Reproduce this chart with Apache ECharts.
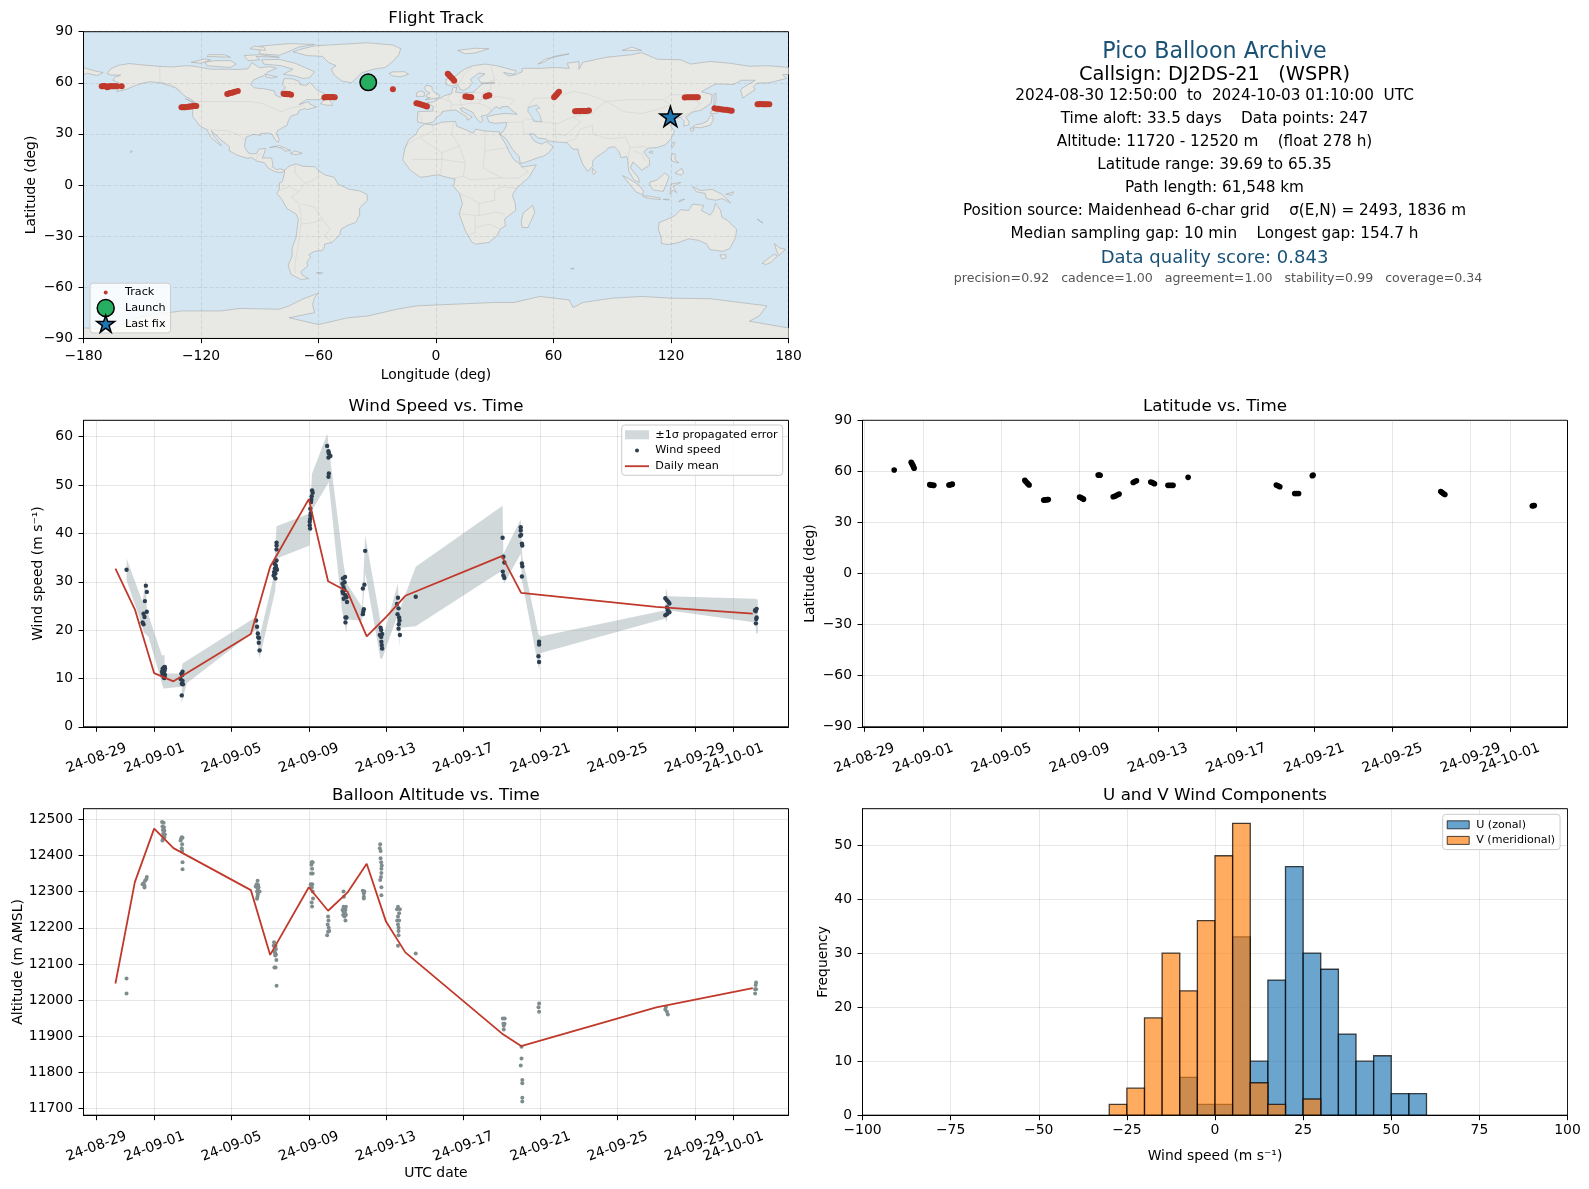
<!DOCTYPE html>
<html><head><meta charset="utf-8">
<style>html,body{margin:0;padding:0;background:#fff}#c{width:1589px;height:1189px}</style>
<script src="https://cdn.jsdelivr.net/npm/echarts@6/dist/echarts.min.js"></script>
</head><body><div id="c"></div>
<script>
// ---------- tick labels ----------
const dateTickDays = [0,3,7,11,15,19,23,27,31,33];
const dateTickLabels = ['24-08-29','24-09-01','24-09-05','24-09-09','24-09-13','24-09-17','24-09-21','24-09-25','24-09-29','24-10-01'];
const lonTicks = [-180,-120,-60,0,60,120,180];
const latTicks = [-90,-60,-30,0,30,60,90];
const windTicks = [0,10,20,30,40,50,60];
const altTicks = [11700,11800,11900,12000,12100,12200,12300,12400,12500];
const histXTicks = [-100,-75,-50,-25,0,25,50,75,100];
const histYTicks = [0,10,20,30,40,50];

// ---------- track (lon, lat) ----------
const launchPoint = [-34.6, 60.3];
const lastFixPoint = [119.7, 40.2];
const trackPoints = [
 [-170.7,58],[-170,58],[-169.4,58.1],[-168.8,58],[-168.2,57.7],[-167.8,57.4],[-167.2,57.8],[-166.6,58],[-166,58],[-165.2,58],[-164.4,58],[-163.6,58],[-162.8,58],[-160.5,58],
 [-130,45.6],[-129.3,45.6],[-128.6,45.7],[-127.9,45.7],[-127.2,45.8],[-126.5,45.9],[-125.8,46],[-125.1,46.1],[-124.4,46.2],[-123.7,46.3],[-123,46.4],[-122.4,46.4],
 [-106.6,53.4],[-105.8,53.7],[-105,54],[-104.2,54.2],[-103.4,54.4],[-102.6,54.7],[-101.2,55.2],
 [-77.8,53.6],[-77.2,53.4],[-76.6,53.5],[-76,53.2],[-75.4,53.4],[-74.8,53.2],[-74,53],
 [-57,51.4],[-56.2,51.6],[-55.4,51.5],[-54.6,51.6],[-53.8,51.5],[-53,51.6],[-52.4,51.5],[-51.7,51.5],
 [-22,56.2],
 [-10,48],[-9.2,47.8],[-8.4,47.6],[-7.6,47.3],[-6.8,47],[-6,46.6],[-5.2,46.3],[-4.6,46],
 [6,65.3],[6.6,64.6],[7.2,63.8],[7.9,63],[8.6,62.2],[9.3,61.2],
 [15,51.9],[15.8,51.9],[16.6,51.7],[17.4,51.6],[18,51.5],
 [25.4,52],[26,52.3],[26.6,52.5],[27.2,52.7],
 [60.3,51.5],[60.9,52.2],[61.5,53],[62.1,53.9],[62.8,54.7],
 [71,43.3],[71.8,43.3],[72.6,43.4],[73.4,43.3],[74.2,43.4],[75,43.4],[75.8,43.5],[76.6,43.5],[77.4,43.6],[78.1,43.7],
 [127,51.4],[128,51.5],[129,51.5],[130,51.5],[131,51.5],[132,51.5],[133,51.5],[133.7,51.5],
 [142.2,45],[143.2,44.8],[144.2,44.7],[145.2,44.5],[146.2,44.3],[147.2,44.2],[148.2,44.1],[149.2,43.9],[150.2,43.7],[151,43.6],
 [164.2,47.4],[165,47.4],[165.8,47.5],[166.6,47.4],[167.4,47.4],[168.2,47.4],[169,47.4],[170.2,47.4]
];

// ---------- latitude vs time (day since 08-29, deg) ----------
const latSeries = [
 [1.52,60.8],[2.39,65.3],[2.42,64.8],[2.45,64],[2.48,63.4],[2.51,62.6],[2.54,61.8],
 [3.34,52.2],[3.4,52],[3.46,51.9],[3.51,51.8],[3.55,51.8],[4.32,52],[4.38,52.1],[4.44,52.3],[4.49,52.5],
 [8.2,54.7],[8.26,53.9],[8.32,53.2],[8.37,52.6],[8.42,52],[9.17,43.1],[9.22,43.2],[9.28,43.3],[9.34,43.4],[9.4,43.5],
 [11,44.9],[11.06,44.6],[11.13,44.2],[11.2,43.7],[11.95,57.9],[12,57.8],[12.05,57.7],
 [12.72,45.1],[12.8,45.4],[12.88,45.8],[12.95,46.3],[13.02,46.7],[13.74,53.5],[13.82,54],[13.91,54.5],
 [14.64,53.7],[14.72,53.4],[14.78,53],[14.83,52.7],[15.52,51.8],[15.6,51.8],[15.7,51.8],[15.78,51.8],[16.55,56.5],
 [21.06,52],[21.15,51.5],[21.24,51],[22,47],[22.1,47],[22.2,47],[22.9,57.4],[22.94,57.8],
 [29.47,48.2],[29.54,47.6],[29.6,47],[29.68,46.4],[34.15,39.7],[34.2,39.9],[34.25,40]
];

// ---------- wind speed vs time (day, m/s) ----------
const windSeries = [
 [1.56,32.5],
 [2.56,29.2],[2.61,27.9],[2.51,26],[2.61,23.8],[2.44,23.4],[2.49,22.7],[2.39,21.6],[2.44,21.2],
 [3.4,11.4],[3.43,12],[3.45,10.6],[3.47,11.8],[3.48,10.4],[3.5,12.3],[3.5,11],[3.52,10.2],[3.53,11.6],[3.54,12.4],[3.55,10.7],[3.55,12.1],[3.42,10.9],[3.46,11.2],[3.51,10.1],
 [4.36,9.9],[4.4,11],[4.44,10.7],[4.46,11.4],[4.42,8.9],[4.46,9.5],[4.48,8.8],[4.42,6.5],
 [8.27,22],[8.32,20.7],[8.36,19.3],[8.38,18.5],[8.42,18.4],[8.41,17.4],[8.45,15.8],
 [9.33,38.1],[9.33,37.5],[9.33,36.7],[9.33,34.4],[9.29,33.4],[9.24,32.7],[9.35,32.5],[9.2,32],[9.27,31.7],[9.18,31.3],[9.27,30.7],[9.3,33],[9.22,33.8],
 [11.17,48.9],[11.2,48.4],[11.15,47.7],[11.13,47],[11.08,45.1],[11.09,43.7],[11.07,43],[11.05,42.4],[11.05,41.7],[11.07,41],[11.12,46.5],[11.1,44.2],
 [11.95,58.1],[12.02,57],[12.04,56.6],[12.12,56],[12.02,55.7],[12.04,52.4],[12.02,51.7],
 [12.77,30.7],[12.88,31],[12.75,29.6],[12.85,29.9],[12.8,28.9],[12.75,28],[12.85,28.3],[12.78,27.6],[12.9,27.2],[12.81,26.5],[12.95,26.8],[12.98,25.8],[12.95,22.6],[12.9,22.6],[12.9,21.6],
 [13.8,28.6],[13.88,29.4],[13.92,36.4],[13.85,24.3],[13.82,23.8],[13.8,23.3],
 [14.72,20.5],[14.75,20],[14.68,19],[14.8,19.2],[14.75,18.6],[14.76,17.6],[14.78,16.9],[14.8,16.2],[14.72,18.9],
 [15.62,26.7],[15.57,25.4],[15.65,24.5],[15.6,23.3],[15.68,22.6],[15.7,22],[15.66,21.2],[15.65,20.3],[15.72,19],
 [16.54,26.9],
 [21.04,39.1],[21.08,35.2],[21.13,34],[21.05,32.1],[21.08,31.3],[21.13,30.8],
 [21.98,41.3],[21.98,40.6],[22,39.7],[21.95,39.5],[22.04,37.9],[22.06,37.5],[22.04,33.8],[22.06,33.2],[22.04,31.1],
 [22.93,17.6],[22.93,17],[22.9,14.6],[22.93,13.4],
 [29.47,26.6],[29.55,26.2],[29.62,25.9],[29.68,25.5],[29.55,24.7],[29.6,24.1],[29.68,23.7],[29.55,23.3],[29.47,23.1],
 [34.12,24.1],[34.2,24.4],[34.15,23.9],[34.2,22.6],[34.18,22.3],[34.16,21.4]
];
const windMeanDays = [0.985,1.99,2.99,3.99,8.0,9.0,11.0,12.0,13.0,14.0,15.0,16.0,21.0,22.0,29.0,34.0];
const windMeanValues = [32.7,24.3,11.1,9.4,19.2,33.1,47.1,30.1,28,18.7,22.7,27.1,35.3,27.7,24.8,23.4];
const windBandUpper = [
 [1.56,34.8],[2.39,25.8],[2.56,30.8],[2.61,24.1],[3.39,14.8],[3.53,14.8],[3.53,11],[4.37,11],[4.46,13.1],[8.26,22.7],[8.45,18.6],[9.18,31],[9.33,41.5],[11.05,44.1],[11.17,52.4],[11.96,60.6],[12.12,55.1],[12.81,33.4],[12.98,29.6],[13.76,24.8],[13.92,39.6],[14.66,23.1],[14.8,17.9],[15.61,29.6],[15.7,24.1],[16.54,33.1],[21.04,45.7],[21.08,35.8],[21.98,42.9],[22.06,35.1],[22.89,19.3],[22.98,18.7],[29.47,24.1],[29.5,28.8],[29.59,27],[34.14,26.5],[34.26,26.3]
];
const windBandLower = [
 [1.56,30.3],[2.39,20.7],[2.44,19.6],[2.7,18.6],[3.47,7.9],[4.43,8.3],[4.41,4.8],[4.68,9],[8.26,20],[8.45,14.1],[9.27,28.3],[9.33,34.8],[11.05,37.5],[11.08,40.3],[11.17,44.8],[12.03,50.6],[12.72,24.1],[12.95,19.3],[12.98,22.2],[13.76,22],[13.93,31.7],[14.71,14.1],[14.8,14.1],[15.57,22.7],[15.7,16.4],[15.7,20.5],[16.54,20.8],[21.04,32.4],[21.11,29.6],[21.98,35.8],[22.04,30.3],[22.93,11.7],[22.98,15.2],[29.47,22.4],[29.55,21.6],[29.59,24.1],[34.14,21.6],[34.18,19.3],[34.26,19.3]
];

// ---------- altitude vs time (day, m) ----------
const altSeries = [
 [1.56,12060],[1.56,12018],
 [2.61,12340],[2.58,12334],[2.52,12330],[2.44,12323],[2.39,12320],[2.49,12316],[2.49,12311],
 [3.4,12492],[3.48,12490],[3.42,12480],[3.5,12478],[3.44,12470],[3.52,12468],[3.46,12460],[3.55,12458],[3.48,12452],[3.52,12450],[3.45,12445],[3.42,12441],
 [4.42,12450],[4.46,12449],[4.38,12445],[4.36,12441],[4.44,12431],[4.42,12420],[4.44,12412],[4.46,12381],[4.46,12362],
 [8.35,12330],[8.3,12320],[8.38,12318],[8.25,12314],[8.4,12311],[8.35,12309],[8.32,12300],[8.4,12300],[8.45,12300],[8.36,12292],[8.34,12286],[8.32,12280],
 [9.2,12160],[9.28,12150],[9.18,12150],[9.3,12141],[9.22,12134],[9.26,12130],[9.3,12126],[9.26,12123],[9.32,12111],[9.22,12090],[9.28,12090],[9.33,12040],
 [11.15,12381],[11.2,12381],[11.14,12374],[11.17,12363],[11.12,12350],[11.2,12350],[11.1,12320],[11.18,12320],[11.12,12316],[11.16,12311],[11.2,12300],[11.22,12281],[11.15,12270],[11.17,12259],
 [12,12231],[12.02,12220],[11.98,12209],[12.03,12200],[12.06,12191],[12.0,12189],[11.95,12179],
 [12.8,12300],[12.82,12286],[12.8,12258],[12.92,12258],[12.85,12254],[12.75,12249],[12.9,12249],[12.8,12244],[12.88,12240],[12.78,12235],[12.92,12235],[12.85,12231],[12.9,12220],
 [13.8,12302],[13.88,12300],[13.85,12295],[13.85,12286],[13.85,12281],
 [14.7,12431],[14.68,12420],[14.72,12412],[14.72,12392],[14.75,12381],[14.78,12372],[14.76,12363],[14.76,12351],[14.74,12340],[14.7,12332],[14.76,12312],[14.76,12290],
 [15.62,12258],[15.57,12251],[15.72,12251],[15.68,12240],[15.62,12231],[15.58,12220],[15.68,12220],[15.62,12209],[15.65,12200],[15.65,12191],[15.65,12179],[15.62,12150],
 [16.54,12129],
 [21.05,11949],[21.15,11949],[21.08,11935],[21.14,11935],[21.1,11929],[21.1,11919],
 [22.02,11871],[22.02,11839],[21.98,11819],[22.06,11779],[22.06,11770],[22.06,11730],[22.06,11720],
 [22.93,11991],[22.9,11980],[22.93,11968],
 [29.5,11981],[29.47,11974],[29.55,11968],[29.6,11960],
 [34.17,12049],[34.15,12042],[34.12,12030],[34.17,12030],[34.12,12018]
];
const altMeanDays = [0.985,1.99,2.99,3.99,8.0,9.0,11.0,12.0,13.0,14.0,15.0,16.0,21.0,22.0,29.0,34.0];
const altMeanValues = [12046,12326,12474,12420,12304,12125,12312,12247,12297,12377,12217,12132,11908,11873,11980,12033];

// ---------- histogram (bins of 5 m/s) ----------
const uBinStarts = [-10,-5,0,5,10,15,20,25,30,35,40,45,50,55];
const uCounts = [7,2,2,33,10,25,46,30,27,15,10,11,4,4];
const vBinStarts = [-30,-25,-20,-15,-10,-5,0,5,10,15,25];
const vCounts = [2,5,18,30,23,36,48,54,6,2,3];
const histBinWidth = 5;

// ---------- coastlines (lon, lat) ----------
const landPolygons = [
 // North America
 [[-168,65.5],[-166,68.3],[-162,70.3],[-156.5,71.3],[-150,70.5],[-141,69.6],[-135,69.3],[-128,70],[-124,69.8],[-115,68],[-108,68],[-102,67.8],[-96,68.2],[-94,71.8],[-90,68.8],[-85,69.5],[-81.5,68.5],[-86,66.3],[-88,64.2],[-93,61.8],[-94.8,59],[-92.5,57],[-88,56.5],[-82.5,55.2],[-82,52.8],[-79.5,51.3],[-78.8,52.5],[-79.5,54.8],[-76.8,57],[-78.5,59],[-77.5,62.5],[-73.5,62.3],[-70,61],[-69.5,58.8],[-66,58.5],[-64.5,60.3],[-61,56],[-57.5,54],[-55.8,52],[-60,50],[-66,50.2],[-70,47.2],[-65,49],[-64.5,47.5],[-61,45.8],[-66,44.2],[-67,45],[-70,43.7],[-70.5,41.7],[-74,40.5],[-75.5,37.5],[-76,35],[-78,33.9],[-81,31.8],[-81.4,30],[-80,26.8],[-80.5,25.2],[-81.8,26],[-82.8,28],[-84,30],[-86,30.4],[-89.5,30.2],[-89.5,29.2],[-93.5,29.7],[-97,28],[-97.5,25],[-97.8,22.4],[-96,19],[-94.3,18.2],[-91.5,18.5],[-90.5,21],[-87,21.5],[-87.8,18.2],[-88.8,15.9],[-84,15.8],[-83.3,12.5],[-83.7,10.8],[-81.5,9],[-79.5,9.5],[-77.4,8.6],[-78.2,7.5],[-80.2,7.3],[-83,8.2],[-85.7,10],[-87.6,13],[-91.5,14],[-94,16],[-96.5,15.7],[-101.5,17.5],[-105.5,20],[-105.5,22.5],[-109.3,26],[-112.5,29.5],[-114.7,31.7],[-113,28],[-110,24],[-109.6,23],[-112,25],[-115,28],[-117,32.5],[-120.5,34.5],[-122.5,37.5],[-124.3,40.3],[-124.2,43],[-124,46.5],[-124.7,48.4],[-122.5,48],[-125,50.2],[-128,52],[-130.5,54.5],[-133,57],[-136,58.3],[-140,59.8],[-146,60.7],[-149,60],[-152,59],[-154,58.2],[-158,56.2],[-163,54.8],[-160,58.7],[-162,60],[-165,61.5],[-164,63.2],[-161,64.5],[-166,64.5]],
 // Greenland and Arctic islands
 [[-73,78.2],[-68,80],[-62,81.7],[-50,82.5],[-35,83.5],[-22,82.2],[-18,80],[-19,76.5],[-22,72.5],[-26,69],[-32,68],[-38,65.8],[-43,60],[-48,61],[-52,64.5],[-53.5,68],[-51,70],[-55,72],[-58,75.5],[-66,76]],
 [[-80,73.7],[-72,71.5],[-67,69],[-62,66.5],[-64.5,63],[-68,62.5],[-72,64],[-78,65],[-73,68],[-79,70],[-88,71],[-89,73.5]],
 [[-117,70],[-105,69],[-102,71],[-105,73],[-113,73],[-118,72]],
 [[-90,77],[-80,76.2],[-76,78],[-70,81],[-62,82.5],[-75,83],[-90,81.5]],
 [[-125,72],[-118,74],[-115,73.5],[-120,71.5]],
 [[-117,75.5],[-105,75],[-108,76.5],[-116,76.5]],
 [[-95,80],[-87,79],[-88,81],[-93,81.5]],
 [[-96,73],[-90,73.5],[-92,75.5],[-80,75],[-90,76.5],[-98,76]],
 [[-87,65],[-81,63.5],[-84,62.8],[-87,63.5]],
 [[-59,47.7],[-56,51.5],[-53,48],[-53,46.7],[-56,46.9]],
 [[-128,50.7],[-123.5,48.4],[-125,48.8]],
 [[-85,22],[-80,23.1],[-74.2,20.2],[-77.5,19.9],[-78.5,21.5],[-82,22.5]],
 [[-74.4,18.5],[-72,20],[-68.4,18.6],[-71.5,17.7]],
 [[-156,19],[-155,19.6],[-155.8,20.3]],
 [[-24,65.5],[-22,66.4],[-16,66.5],[-14,65],[-18,63.5],[-22,64]],
 [[11,79],[20,80.3],[27,80],[20,77.5],[15,77]],
 [[52,71],[56,74],[68,77],[60,75.5],[55,72]],
 [[95,79],[105,79],[100,81]],
 // British Isles
 [[-5.5,50],[1.5,51.2],[1.7,52.8],[-1,54.5],[-2,56],[-2,57.7],[-5,58.6],[-6,57],[-4.8,55],[-3,54],[-4.8,52.8],[-5,51.7],[-3,51.3]],
 [[-10,52],[-6,52.1],[-6,54.5],[-8,55.2],[-10,54]],
 // Eurasia
 [[-9.5,37],[-9.3,43],[-1.8,43.4],[-1.2,46],[-4.7,48.3],[-1.5,48.7],[2,51],[4.5,52.5],[8,53.7],[8.5,57],[10.7,57.5],[10,54.5],[14,54],[19,54.4],[21,56.5],[23.5,59.3],[30,60],[23,60],[21.5,62.5],[25,65.2],[22,65.7],[17.5,62],[18.7,60],[16.5,57],[14,55.5],[12.5,56],[11,59],[8,58],[5.2,59],[5,62],[10,64],[14.5,68],[19,70],[25,71],[31,70],[41,67],[40,65],[34.5,66],[37,64],[40.5,64.7],[44,66.5],[44,68.5],[54,68.5],[60,69],[68,68.5],[67,71.5],[73,72.5],[73,68],[75,72],[81,73.5],[87,75],[100,76.5],[105,77.7],[113,73.8],[125,73.5],[130,71],[140,72.5],[150,71.5],[160,69.7],[170,70],[180,69],[180,65],[177,64.7],[179,62.5],[170,60],[164,59.8],[162,57.5],[163,56],[159,53],[156.7,51],[155.5,56],[158,58],[163,61.5],[156,61.5],[152,59],[142.5,59.3],[135.5,54.7],[141,53],[140.5,48],[135.5,44],[131,42.7],[127.5,39.8],[129.3,37],[129,35.2],[126.5,34.5],[126.7,37.5],[125,39.7],[121.5,39],[121,40.8],[118,39],[119,37.3],[122.5,37],[119.5,35],[121.8,31.5],[120,27],[117,23.5],[113,22],[108.5,21.6],[106,19.5],[109,15],[109,11.5],[105,8.7],[103,11],[100.5,13.5],[99.3,10],[103.5,4],[103.8,1.5],[101,3],[98.3,8.5],[98,14.5],[97.3,16.7],[94.5,16],[93.5,19.5],[91,22.5],[88,21.8],[86.7,20],[82,16.5],[80,14],[80,11],[77.5,8],[75,12],[73,18],[72.5,21],[70,21],[67,24.8],[61.5,25.2],[57,26],[56.4,27],[52,27.5],[50,30],[48,30],[48.5,28.5],[50,26],[51.5,25],[54,24],[56.3,25.5],[59.8,22.5],[57.7,19],[55,17],[52,16],[45,13],[43,12.7],[42.5,16.5],[39,21],[36.5,26],[35,28],[32.5,30],[34.3,31.3],[35.8,34.5],[36,36.7],[30,36.2],[27,37],[26,40],[29,41],[35,42],[41.5,41.5],[38,44.5],[37,46],[33.5,46],[33,44.7],[30.5,46],[28,43],[26,41],[23,40.5],[24,38],[22.5,36.5],[19.5,41],[19,42.5],[14,45.3],[12.3,45],[13,43.5],[18.5,40],[16,38],[15.7,40],[10,44],[7,43.7],[3.2,43.2],[3,41.8],[0,39.5],[-0.7,37.7],[-2,36.7],[-5.5,36]],
 [[-180,69],[-175,67.2],[-170,66],[-173,64.3],[-178,65.5],[-180,65]],
 // Asia islands
 [[131,34],[135,33.6],[140,35],[141.5,38],[141.3,41],[140,40.5],[138.5,37.5],[136,36],[132.5,35.4]],
 [[140,42],[141.8,45.3],[145.3,43.5],[143,42]],
 [[130,33.5],[131.8,33.2],[131,31.3],[130,32]],
 [[142,46],[143,49],[143,54],[142,53.5],[142,49]],
 [[120.2,23],[121,25.2],[122,24.8],[120.8,22]],
 [[120,16],[120.8,18.5],[122.2,18],[122,15],[124,13],[120.5,14]],
 [[122,7],[125.5,9.7],[126.5,7],[125,5.8]],
 [[108.7,19.2],[110.5,20],[110.5,18.5]],
 [[79.8,8],[80,9.7],[81.8,7.5],[80.5,6]],
 [[95.3,5.5],[98,4],[103.5,0],[106,-3.5],[105.5,-5.8],[102,-4],[98.5,1]],
 [[105.5,-6.5],[108.5,-6.5],[114.5,-7.7],[114.5,-8.6],[108,-7.8]],
 [[109,1.5],[113,3],[116.8,7],[119,5],[117.8,1],[116,-3.8],[111,-3],[109.2,0]],
 [[119.5,-5.5],[120,0.5],[125,1.5],[121,-1],[123,-4.5],[121,-3]],
 [[131,-1],[135,-3.3],[141,-2.6],[146,-5.5],[150.5,-10.5],[146,-8],[143,-9],[138,-8],[137.5,-5],[133,-4]],
 [[148,-5.5],[152,-4],[151,-6]],
 [[116,-8.5],[119,-8.3],[119,-8.9]],
 [[124,-10],[127,-8.4],[124.5,-9]],
 // Oceania
 [[114,-22],[113.5,-26],[115,-31],[115,-34.3],[118,-35],[123.5,-34],[129,-31.6],[134,-32.5],[138,-34.5],[140,-38],[146.5,-39],[150,-37.3],[153,-31],[153.5,-26],[149,-21],[146,-19],[145.3,-15],[142.7,-10.8],[141.7,-15],[140,-17.7],[135.5,-15],[136.7,-12],[131,-11.3],[129,-15],[125,-14.5],[122,-18],[118,-20.2]],
 [[145,-41],[148,-41],[148,-43],[146,-43.5]],
 [[172.8,-34.5],[175.5,-37],[178.5,-37.8],[175,-41.5],[174,-39]],
 [[172.7,-40.7],[174.3,-41.7],[171,-45.5],[168.5,-46.7],[166.5,-46],[171,-42]],
 [[164,-20],[167,-22.3],[166,-21.8]],
 [[68.8,-49],[70.5,-49],[69.5,-49.7]],
 // Africa
 [[-5.8,35.8],[-1,35.2],[3,36.9],[10,37.3],[10.5,34.5],[15,32.5],[19,30.3],[20.2,32.8],[25,31.7],[30,31.3],[32.5,31.2],[32.5,29.8],[34,27],[36,23],[37.3,19.5],[39.5,15.2],[43,12],[44,10.5],[51.2,11.8],[47.5,4.5],[41,-2],[39,-6],[40.5,-11],[40.7,-15],[35,-20],[35.5,-24],[32.8,-26],[31,-30],[27,-33.8],[20,-34.8],[18.3,-33.5],[15,-27],[11.8,-17],[13.5,-11],[12,-5],[9,-0.8],[9.7,3.5],[5.5,4.5],[1,6],[-4.5,5],[-8,4.5],[-13,8.5],[-17,14.7],[-16,21],[-14,26.5],[-10,30],[-9,33]],
 [[49.3,-12],[50.5,-16],[47,-25],[44,-25],[43.5,-21.5],[44.5,-16.5]],
 // South America
 [[-77.3,8.6],[-75,11],[-71.5,12.4],[-68,11],[-62,10.7],[-60,8.5],[-57,6],[-52,4.5],[-50,0.5],[-44.5,-2.5],[-39,-3.5],[-35.2,-5.5],[-35,-9],[-39,-13.5],[-39,-17.5],[-41,-22],[-45,-23.7],[-48.5,-26],[-49,-29],[-53,-33.7],[-57,-34.8],[-57,-36.5],[-58,-38.5],[-62,-39],[-65,-41],[-64,-42.5],[-66,-45.5],[-65.5,-47.5],[-69,-51],[-68.3,-53],[-65,-55],[-69,-55.5],[-74,-52.5],[-75.5,-47],[-73.5,-42],[-73.5,-37],[-71.5,-31],[-70.3,-20],[-71.5,-17],[-76,-14],[-79,-8],[-81.3,-5],[-80,-2.5],[-80,1],[-78.5,2],[-77.5,6]],
 [[-61,-51.5],[-58,-51.5],[-59,-52.3]],
 // Antarctica
 [[-180,-84],[-165,-84.5],[-150,-77],[-130,-74],[-110,-74],[-100,-72.5],[-80,-73],[-75,-71],[-68,-67],[-60,-63.5],[-62,-66],[-63,-70],[-62,-75],[-75,-78],[-60,-82],[-45,-78],[-35,-77],[-20,-73],[-10,-71],[10,-70],[30,-69],[40,-69],[53,-65.5],[68,-67.5],[70,-72],[75,-69],[90,-66.5],[105,-65.5],[120,-66.5],[140,-66.8],[155,-69],[169,-71],[165,-77],[160,-80],[180,-84],[180,-90],[-180,-90]]
];
const waterPolygons = [
 [[47,45.5],[51.5,47],[53,45],[51,44.5],[53,41],[54,37],[50,37.3],[49,40],[47,43]]
];
const borderLines = [
 [[-123,49],[-95,49],[-89,48],[-83,45],[-79,43],[-75,45],[-70,46],[-67.5,47]],
 [[-141,69.6],[-141,60.3],[-135,59],[-130,55]],
 [[-117,32.5],[-106,31.8],[-101,29.5],[-97.5,26]],
 [[-92,14.5],[-91,17.5],[-89,18]],
 [[-72,12],[-72,7],[-67,1],[-70,-4],[-74,-7],[-70,-11],[-69,-17],[-69,-23],[-70,-33],[-72,-46],[-72,-52]],
 [[-60,8.5],[-60,5],[-64,2],[-67,1]],
 [[-80,-3],[-75,-1],[-70,-4]],
 [[-69,-11],[-62,-13],[-58,-20],[-54,-26],[-57,-30],[-53,-33.7]],
 [[-69,-23],[-62,-22],[-58,-20]],
 [[-8,28],[-1,32],[-2,35]],[[-8,28],[-12,26],[-17,21]],[[9,37],[8,30],[12,23],[3,19],[-5,25],[-8,28]],
 [[25,31.7],[25,20],[37,22]],[[25,20],[24,10],[34,4],[42,4],[47,8],[43,11]],[[12,23],[15,13],[14,5],[9,4]],[[3,19],[3,12],[2,6]],[[-12,15],[3,15],[15,13]],
 [[14,5],[18,3],[30,4],[34,4]],[[12,-5],[18,-8],[22,-11],[30,-9],[30,-3],[34,-1],[41,-2]],[[22,-11],[22,-18],[12,-17]],[[20,-18],[20,-28],[17,-29]],[[22,-18],[30,-16],[35,-17]],[[33,-26],[27,-23],[20,-25]],
 [[2,51],[6,49.5],[8,48],[7,44]],[[-1.8,43.4],[3,42.5]],[[-8.5,42],[-7,37]],[[7,53.5],[6,51],[8,48]],[[14,54],[15,51],[12,50],[13,47],[8,47]],[[15,51],[23,50],[24,54],[19,54.4]],[[13,47],[17,48],[22,48],[23,50]],[[22,48],[28,45],[28,43]],[[24,54],[28,56],[28,60]],[[23,50],[32,52],[40,50],[38,47]],
 [[18,69],[14.5,65],[12,60],[11,59]],[[28,69.5],[30,62],[27,60.5]],
 [[28,60],[31,62]],[[47,45.5],[50,51],[60,51],[70,55],[77,53.5],[87,49],[82,45],[80,42],[70,40],[62,36],[54,37]],
 [[54,37],[46,39],[44,37],[45,30],[48,30]],[[36,36.7],[44,37]],[[61.5,25.2],[61,30],[61,36]],[[61,30],[66,29],[70,33],[74,37],[70,40]],[[66,25],[71,27],[74,33],[80,35],[80,30],[88,27],[97,28],[99,22],[98,15]],
 [[87,49],[97,50],[106,50],[116,50],[120,53],[126,53],[135,48],[131,43]],[[87,49],[96,43],[105,42],[112,44],[120,47],[116,50]],[[99,22],[106,22.5],[108,21.5]],[[101,20],[105,18],[107,14]],[[131,43],[125,40]]
];

// ---------- text ----------
const infoTitle = 'Pico Balloon Archive';
const infoCallsign = 'Callsign: DJ2DS-21   (WSPR)';
const infoLines = [
 '2024-08-30 12:50:00  to  2024-10-03 01:10:00  UTC',
 'Time aloft: 33.5 days    Data points: 247',
 'Altitude: 11720 - 12520 m    (float 278 h)',
 'Latitude range: 39.69 to 65.35',
 'Path length: 61,548 km',
 'Position source: Maidenhead 6-char grid    σ(E,N) = 2493, 1836 m',
 'Median sampling gap: 10 min    Longest gap: 154.7 h'
];
const infoScore = 'Data quality score: 0.843';
const infoComponents = 'precision=0.92   cadence=1.00   agreement=1.00   stability=0.99   coverage=0.34';

// ---------- styling ----------
const FONT = 'DejaVu Sans';
const RED = '#c0392b', NAVY = '#2c3e50', GREY = '#7f8c8d', BLUE = '#1a5276';
const GRIDC = 'rgba(128,128,128,0.2)';
const STAR = 'path://M50 0 L61.2 35 L98 35 L68.2 56.6 L79.4 92 L50 70.2 L20.6 92 L31.8 56.6 L2 35 L38.8 35 Z';
const DOT = (w,h) => `path://M0 0 L0 0 M${w} ${h} L${w} ${h} M${w/2-2} ${h/2} A2 2 0 1 1 ${w/2+2} ${h/2} A2 2 0 1 1 ${w/2-2} ${h/2} Z`;
const DASH = (w,h,t) => `path://M0 0 L0 0 M${w} ${h} L${w} ${h} M0 ${h/2-t/2} L${w} ${h/2-t/2} L${w} ${h/2+t/2} L0 ${h/2+t/2} Z`;

const L1 = 83.5, W = 705, L2 = 862.5, T1 = 31.7, T2 = 420.3, T3 = 808.7, H = 306.5;
const grids = [[L1,T1],[L1,T2],[L2,T2],[L1,T3],[L2,T3]].map(([left,top]) => ({
  left, top, width:W, height:H, show:true, backgroundColor:'transparent', borderColor:'#000', borderWidth:1
}));
grids[0].backgroundColor = '#d4e6f1';

const fmtNum = v => String(v).replace('-', '\u2212');
function valAxis(gridIndex, min, max, ticks, extra, margin, isY) {
  return Object.assign({
    type:'value', gridIndex, min, max, scale:true,
    axisLine:{show:true, onZero:false, lineStyle:{color:'#000', width:1}},
    axisTick:{show:true, length:5, customValues:ticks, lineStyle:{color:'#000', width:1}},
    axisLabel:{show:true, customValues:ticks, color:'#000', fontSize:13.9, fontFamily:FONT, margin:margin||6, hideOverlap:false, padding:isY?[1.5,0,0,0]:0, formatter:fmtNum},
    splitLine:{show:true, lineStyle:{color:GRIDC, width:1}},
    nameTextStyle:{color:'#000', fontSize:13.9, fontFamily:FONT}, nameLocation:'middle'
  }, extra||{});
}
function dateAxis(gridIndex, min, max, extra) {
  const a = valAxis(gridIndex, min, max, dateTickDays, extra);
  a.position = 'bottom';
  a.axisLabel.rotate = 20;
  a.axisLabel.align = 'center';
  a.axisLabel.verticalAlign = 'middle';
  a.axisLabel.margin = 31.5;
  a.axisLabel.customValues = dateTickDays.slice(0,-1);
  a.axisLabel.formatter = v => dateTickLabels[dateTickDays.indexOf(v)];
  return a;
}
// The last date label overlaps its neighbour, as in the reference; ECharts would drop one of
// them on a single axis, so it is drawn by a companion axis with the same scale and grid.
function lastDateAxis(gridIndex, min, max) {
  const a = dateAxis(gridIndex, min, max);
  const last = dateTickDays[dateTickDays.length-1];
  a.axisLabel.customValues = [last];
  a.axisTick = {show:false};
  a.axisLine = {show:false, onZero:false};
  a.splitLine = {show:false};
  return a;
}
const polygonSeries = (name, polys, gridIdx, style, z) => ({
  type:'custom', name, coordinateSystem:'cartesian2d', xAxisIndex:gridIdx, yAxisIndex:gridIdx, z, silent:true,
  clip:true, data:polys.map((p,i)=>[p[0][0],p[0][1],i]), animation:false,
  renderItem:(params, api) => ({type:'polygon', shape:{points:polys[api.value(2)].map(c=>api.coord(c))}, style})
});
const histSeries = (name, starts, counts, fill) => ({
  type:'custom', name, coordinateSystem:'cartesian2d', xAxisIndex:4, yAxisIndex:4, z:3, itemStyle:{color:fill},
  data:starts.map((s,i)=>[s,counts[i]]),
  encode:{x:0,y:1},
  renderItem:(params, api) => {
    const a = api.coord([api.value(0), api.value(1)]), b = api.coord([api.value(0)+histBinWidth, 0]);
    return {type:'rect', shape:{x:a[0], y:a[1], width:b[0]-a[0], height:b[1]-a[1]},
      style:{fill, stroke:'rgba(0,0,0,0.72)', lineWidth:1.3}};
  }
});

const texts = [];
const addText = (text, cx, top, size, color) => texts.push({text, left:cx, top, textAlign:'center', padding:0,
  textStyle:{color, fontSize:size, fontWeight:'normal', fontFamily:FONT}});
const cx1 = L1+W/2, cx2 = L2+W/2, cxInfo = 1214.5;
addText('Flight Track', cx1, 10.3, 16.7, '#000');
addText('Wind Speed vs. Time', cx1, 398.5, 16.7, '#000');
addText('Latitude vs. Time', cx2, 398.5, 16.7, '#000');
addText('Balloon Altitude vs. Time', cx1, 787.3, 16.7, '#000');
addText('U and V Wind Components', cx2, 787.3, 16.7, '#000');
addText(infoTitle, cxInfo, 41, 22.2, BLUE);
addText(infoCallsign, cxInfo, 65, 19.4, '#000');
const infoTops = [89,111.5,134.5,157.5,180.5,204,227];
infoLines.forEach((t,i)=>addText(t, cxInfo, infoTops[i], 15.25, '#000'));
addText(infoScore, cxInfo, 249, 18, BLUE);
addText(infoComponents, cxInfo+3.5, 272, 12.6, '#555555');

const legendBase = {orient:'vertical', backgroundColor:'rgba(255,255,255,0.82)', borderColor:'#cccccc', borderWidth:1, borderRadius:3,
  selectedMode:false, align:'left'};

const mapSplit = {show:true, lineStyle:{color:'rgba(110,110,110,0.16)', width:1, type:'dashed'}};
const option = {
  animation:false,
  backgroundColor:'#fff',
  textStyle:{fontFamily:FONT},
  title:texts,
  grid:grids,
  xAxis:[
    valAxis(0,-180,180,lonTicks,{name:'Longitude (deg)', nameGap:30, z:3, splitLine:mapSplit},11),
    dateAxis(1,-0.67,35.85),
    dateAxis(2,-0.1,35.95),
    dateAxis(3,-0.67,35.85,{name:'UTC date', nameGap:51}),
    valAxis(4,-100,100,histXTicks,{name:'Wind speed (m s\u207B\u00B9)', nameGap:34},8),
    lastDateAxis(1,-0.67,35.85),
    lastDateAxis(2,-0.1,35.95),
    lastDateAxis(3,-0.67,35.85)
  ],
  yAxis:[
    valAxis(0,-90,90,latTicks,{name:'Latitude (deg)', nameGap:45, z:3, splitLine:mapSplit},10.5,true),
    valAxis(1,0,63.4,windTicks,{name:'Wind speed (m s\u207B\u00B9)', nameGap:38},10.5,true),
    valAxis(2,-90,90,latTicks,{name:'Latitude (deg)', nameGap:45},10.5,true),
    valAxis(3,11682,12529,altTicks,{name:'Altitude (m AMSL)', nameGap:55},10.5,true),
    valAxis(4,0,56.7,histYTicks,{name:'Frequency', nameGap:32},10.5,true)
  ],
  legend:[
    Object.assign({},legendBase,{left:90,top:283.2,padding:[0,5,0,4.7],itemWidth:22,itemHeight:17,itemGap:-2.9,
      textStyle:{fontSize:11.2,fontFamily:FONT,color:'#000',lineHeight:18.5,padding:[0,0,0,3.3]},
      data:[{name:'Track',icon:DOT(22,17),itemStyle:{color:RED}},{name:'Launch',icon:'circle',itemStyle:{color:'#27ae60',borderColor:'#000',borderWidth:1.5}},{name:'Last fix',icon:STAR,itemStyle:{color:'#1f77b4',borderColor:'#000',borderWidth:1.5}}]}),
    Object.assign({},legendBase,{left:621.7,top:425,padding:[4.3,5,3.6,3.3],itemWidth:24,itemHeight:9,itemGap:4.7,
      textStyle:{fontSize:11.2,fontFamily:FONT,color:'#000',padding:[0,0,0,1.3]},
      data:[{name:'\u00B11\u03C3 propagated error',icon:'rect',itemStyle:{color:'#d1d9db'}},{name:'Wind speed',icon:DOT(24,9),itemStyle:{color:NAVY}},{name:'Daily mean',icon:DASH(24,9,1.8),itemStyle:{color:RED}}]}),
    Object.assign({},legendBase,{left:1442.7,top:814.3,padding:[5,5,3.7,4],itemWidth:22,itemHeight:8,itemGap:4.6,
      textStyle:{fontSize:11.1,fontFamily:FONT,color:'#000',padding:[0,0,0,2]},
      data:[{name:'U (zonal)',icon:'rect',itemStyle:{color:'rgba(31,119,180,0.68)',borderColor:'rgba(0,0,0,0.7)',borderWidth:1}},{name:'V (meridional)',icon:'rect',itemStyle:{color:'rgba(255,127,14,0.68)',borderColor:'rgba(0,0,0,0.7)',borderWidth:1}}]})
  ],
  series:[
    polygonSeries('land', landPolygons, 0, {fill:'#e8e8e4', stroke:'rgba(165,165,165,0.7)', lineWidth:0.8}, 1),
    polygonSeries('inland water', waterPolygons, 0, {fill:'#d4e6f1', stroke:'rgba(165,165,165,0.7)', lineWidth:0.7}, 1.5),
    {type:'custom', name:'borders', coordinateSystem:'cartesian2d', xAxisIndex:0, yAxisIndex:0, z:1.7, silent:true,
     data:borderLines.map((p,i)=>[p[0][0],p[0][1],i]),
     renderItem:(params, api)=>({type:'polyline', shape:{points:borderLines[api.value(2)].map(c=>api.coord(c))}, style:{fill:null, stroke:'rgba(150,150,150,0.22)', lineWidth:0.7}})},
    {type:'scatter', name:'Track', xAxisIndex:0, yAxisIndex:0, data:trackPoints, symbol:'circle', symbolSize:6, z:5, itemStyle:{color:RED, opacity:1}},
    {type:'scatter', name:'Launch', xAxisIndex:0, yAxisIndex:0, data:[launchPoint], symbol:'circle', symbolSize:16.5, z:6, itemStyle:{color:'#27ae60', borderColor:'#000', borderWidth:1.5, opacity:1}},
    {type:'scatter', name:'Last fix', xAxisIndex:0, yAxisIndex:0, data:[lastFixPoint], symbol:STAR, symbolKeepAspect:true, symbolSize:21, z:7, itemStyle:{color:'#1f77b4', borderColor:'#000', borderWidth:1.5, opacity:1}},

    {type:'custom', name:'\u00B11\u03C3 propagated error', coordinateSystem:'cartesian2d', xAxisIndex:1, yAxisIndex:1, z:2, itemStyle:{color:'#d1d9db'},
     data:[[windBandUpper[0][0],windBandUpper[0][1]]], encode:{x:0,y:1},
     renderItem:(params, api)=>({type:'polygon', shape:{points:windBandUpper.concat(windBandLower.slice().reverse()).map(c=>api.coord(c))},
       style:{fill:'rgba(149,165,166,0.43)', stroke:'none'}})},
    {type:'scatter', name:'Wind speed', xAxisIndex:1, yAxisIndex:1, data:windSeries, symbol:'circle', symbolSize:4.4, z:3, itemStyle:{color:NAVY, opacity:1}},
    {type:'line', name:'Daily mean', xAxisIndex:1, yAxisIndex:1, data:windMeanDays.map((d,i)=>[d,windMeanValues[i]]), symbol:'none', showSymbol:false, z:4, lineStyle:{color:RED, width:1.8}, itemStyle:{color:RED}},

    {type:'scatter', name:'Latitude', xAxisIndex:2, yAxisIndex:2, data:latSeries, symbol:'circle', symbolSize:5.6, z:3, itemStyle:{color:'#000', opacity:1}},

    {type:'scatter', name:'Altitude', xAxisIndex:3, yAxisIndex:3, data:altSeries, symbol:'circle', symbolSize:4, z:3, itemStyle:{color:GREY, opacity:1}},
    {type:'line', name:'Altitude daily mean', xAxisIndex:3, yAxisIndex:3, data:altMeanDays.map((d,i)=>[d,altMeanValues[i]]), symbol:'none', showSymbol:false, z:4, lineStyle:{color:RED, width:1.8}, itemStyle:{color:RED}},

    histSeries('U (zonal)', uBinStarts, uCounts, 'rgba(31,119,180,0.66)'),
    histSeries('V (meridional)', vBinStarts, vCounts, 'rgba(255,127,14,0.66)')
  ]
};
const chart = echarts.init(document.getElementById('c'), null, {renderer:'canvas'});
chart.setOption(option);
</script></body></html>
